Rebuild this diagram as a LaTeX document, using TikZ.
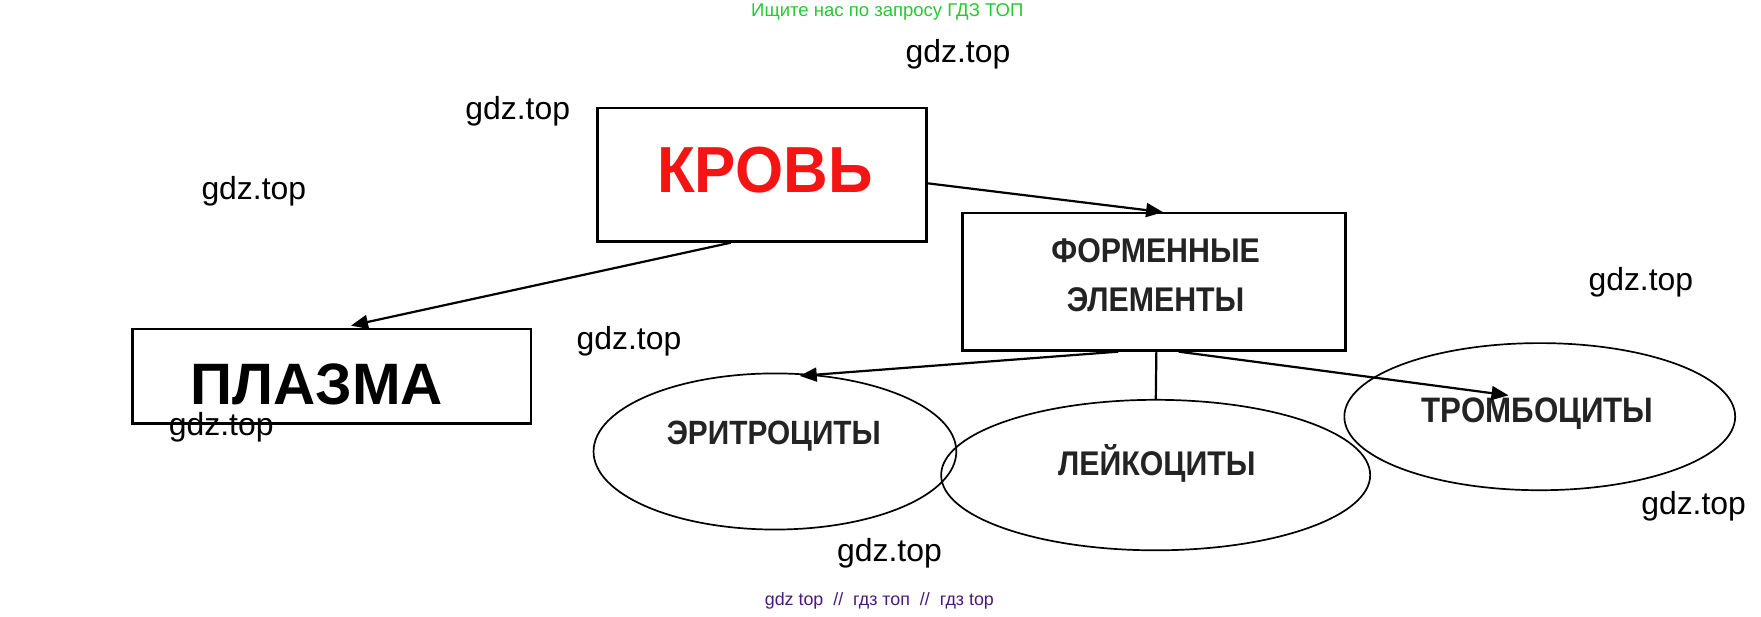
\documentclass[tikz,border=0pt]{standalone}
\usepackage{fontspec}
\setmainfont{Liberation Sans}
\newfontfamily\narrowfont[FakeStretch=0.885]{Liberation Sans}
\newfontfamily\krfont[FakeStretch=0.95]{Liberation Sans}
\newfontfamily\wmfont{Liberation Sans}
\usetikzlibrary{shapes.geometric,arrows.meta,calc}
\definecolor{topgreen}{RGB}{40,200,50}
\definecolor{botpurple}{RGB}{75,25,125}
\definecolor{kred}{RGB}{245,20,20}
\definecolor{celltextcol}{RGB}{35,35,35}
\tikzset{
  box/.style={draw=black,line width=2.2pt,rectangle,inner sep=0pt},
  ell/.style={draw=black,line width=1.7pt,ellipse,inner sep=0pt},
  celltext/.style={font=\narrowfont\bfseries\fontsize{30}{36}\selectfont,text=celltextcol,inner sep=0pt},
  wm/.style={font=\wmfont\fontsize{28.4}{32}\selectfont,inner sep=0pt},
  conn/.style={line width=2.2pt,draw=black},
  arr/.style={conn,-{Triangle[length=17pt,width=14pt]}}
}
\begin{document}
\begin{tikzpicture}[x=1pt,y=-1pt,scale=1.1231,every node/.append style={transform shape}]
\useasboundingbox[fill=white] (0,0) rectangle (1568,548.5);
% header / footer
\node[font=\fontsize{16.5}{20}\selectfont,text=topgreen,inner sep=0pt] (hdr) at (790,11) {Ищите нас по запросу ГДЗ ТОП};
\node[font=\fontsize{15.9}{19}\selectfont,text=botpurple,inner sep=0pt] (ftr) at (783,535) {gdz top \ // \ гдз топ \ // \ гдз top};
% boxes
\node[box,minimum width=293pt,minimum height=119pt] (kr) at (678.5,155.5) {};
\node[font=\bfseries\krfont\fontsize{58}{62}\selectfont,text=kred,inner sep=0pt] (krt) at (681,151) {КРОВЬ};
\node[box,minimum width=341pt,minimum height=122pt] (fm) at (1027.5,251) {};
\node[celltext,font=\narrowfont\bfseries\fontsize{30.5}{36}\selectfont,align=center] (fmt) at (1029,245) {ФОРМЕННЫЕ\\[8pt]ЭЛЕМЕНТЫ};
\node[box,minimum width=355pt,minimum height=84pt] (pl) at (295.5,335) {};
\node[font=\bfseries\fontsize{52}{56}\selectfont,inner sep=0pt] (plt) at (282,342) {ПЛАЗМА};
% ellipses
\node[ell,minimum width=323pt,minimum height=139pt] (eri) at (690,402) {};
\node[celltext] (erit) at (689,388) {ЭРИТРОЦИТЫ};
\node[ell,minimum width=382pt,minimum height=134pt] (lei) at (1029,423) {};
\node[celltext,font=\narrowfont\bfseries\fontsize{30.5}{36}\selectfont] (leit) at (1030,413) {ЛЕЙКОЦИТЫ};
\node[ell,minimum width=348pt,minimum height=131pt] (tr) at (1371,371) {};
\node[celltext,font=\narrowfont\bfseries\fontsize{31.5}{36}\selectfont] (trt) at (1369,368) {ТРОМБОЦИТЫ};
% connectors
\draw[arr] (kr.-3) -- ($(fm.north)+(8,0)$);
\draw[arr] ($(kr.south)+(-28,0)$) -- ($(pl.north)+(17,-2)$);
\draw[arr] ($(fm.south)+(-32,0)$) -- ($(eri.north)+(22,3)$);
\draw[conn] ($(fm.south)+(2,0)$) -- (lei.north);
\draw[arr] ($(fm.south)+(22,0)$) -- ($(tr.center)+(-28,-19)$);
% watermarks
\node[wm] (w1) at (853,48) {gdz.top};
\node[wm] (w2) at (461,99) {gdz.top};
\node[wm] (w3) at (226,170) {gdz.top};
\node[wm] (w4) at (560,304) {gdz.top};
\node[wm] (w5) at (1461,251) {gdz.top};
\node[wm] (w6) at (197,380) {gdz.top};
\node[wm] (w7) at (792,493) {gdz.top};
\node[wm] (w8) at (1508,451) {gdz.top};
\end{tikzpicture}
\end{document}
